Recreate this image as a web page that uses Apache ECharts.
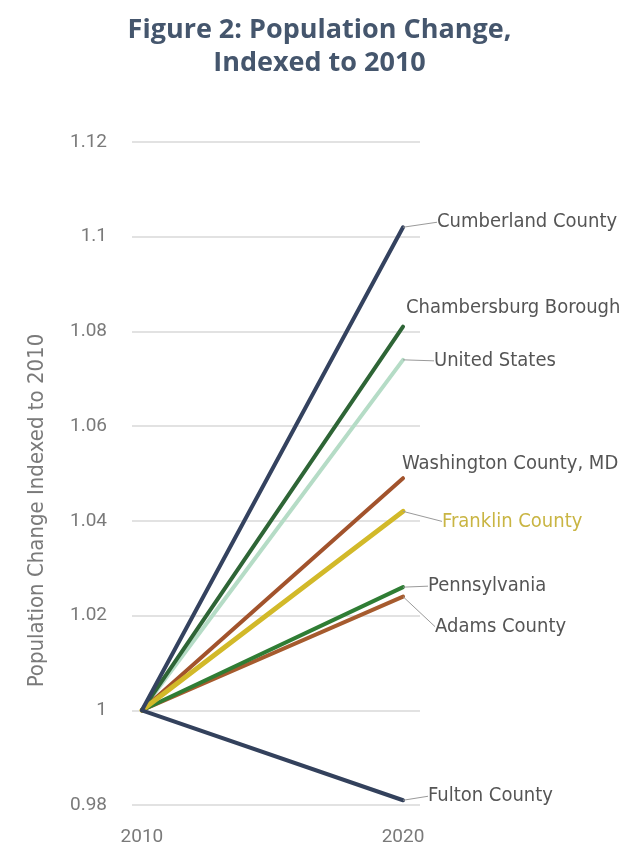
<!DOCTYPE html>
<html>
<head>
<meta charset="utf-8">
<script src="https://cdn.jsdelivr.net/npm/echarts@6/dist/echarts.min.js"></script>
<style>
  html, body { margin: 0; padding: 0; background: #ffffff; }
  #chart { width: 639px; height: 849px; }
</style>
</head>
<body>
<div id="chart"></div>
<script>
// Years compared
const years = [2010, 2020];
// Places, in drawing order (later ones sit on top)
const places = ['United States', 'Washington County, MD', 'Adams County', 'Pennsylvania',
  'Chambersburg Borough', 'Franklin County', 'Cumberland County', 'Fulton County'];
// 2010 population indexed to 1
const index2010 = [1, 1, 1, 1, 1, 1, 1, 1];
// 2020 population relative to 2010
const index2020 = [1.074, 1.049, 1.024, 1.026, 1.081, 1.042, 1.102, 0.981];
// Y-axis tick labels
const yTicks = ['0.98', '1', '1.02', '1.04', '1.06', '1.08', '1.1', '1.12'];

const lineColors = ['#b5dcc6', '#a2532c', '#a65b2e', '#2f7d34',
  '#2e6536', '#d2b929', '#34425f', '#33415c'];
const lineWidths = [4, 4, 4, 4, 4, 5, 4, 4];
// label offsets from the 2020 end of each line, and whether a leader is drawn
const labelShift = [[26, 1, true], [-6, -14, false], [27, 30, true], [20, -1, true],
  [-2, -19, false], [34, 10, true], [29, -5, true], [20, -4, true]];
const labelColors = ['#555', '#555', '#555', '#555', '#555', '#c9b543', '#555', '#555'];

const labelFont = '"Liberation Sans Narrow", "DejaVu Sans Condensed", sans-serif';

const series = places.map((name, i) => ({
  name: name,
  type: 'line',
  z: 2 + i,
  symbol: 'circle',
  symbolSize: 0,
  showSymbol: true,
  lineStyle: { color: lineColors[i], width: lineWidths[i], cap: 'round' },
  itemStyle: { color: lineColors[i] },
  data: [
    [years[0], index2010[i]],
    {
      value: [years[1], index2020[i]],
      label: {
        show: true,
        position: 'right',
        distance: 5,
        formatter: name,
        color: labelColors[i],
        fontFamily: labelFont,
        fontSize: 20
      }
    }
  ],
  labelLine: {
    show: labelShift[i][2],
    lineStyle: { color: '#9a9a9a', width: 1 },
    smooth: 0.3
  },
  labelLayout: { dx: labelShift[i][0], dy: labelShift[i][1] },
  emphasis: { disabled: true },
  animation: false
}));

const chart = echarts.init(document.getElementById('chart'), null, { renderer: 'canvas' });
chart.setOption({
  backgroundColor: '#ffffff',
  animation: false,
  title: {
    text: 'Figure 2: Population Change,\nIndexed to 2010',
    left: 'center',
    top: 9,
    textStyle: {
      fontFamily: '"Open Sans", Lato, sans-serif',
      fontWeight: 'bold',
      fontSize: 27,
      lineHeight: 33,
      color: '#45566d'
    }
  },
  grid: { left: 132, right: 219, top: 142, bottom: 44, containLabel: false },
  xAxis: {
    type: 'value',
    min: 2009.62,
    max: 2020.65,
    splitLine: { show: false },
    axisLine: { show: false },
    axisTick: { show: false },
    axisLabel: {
      customValues: years,
      color: '#7a7a7a',
      fontFamily: 'Roboto, sans-serif',
      fontSize: 19,
      margin: 23,
      formatter: v => String(v)
    }
  },
  yAxis: {
    type: 'value',
    min: 0.98,
    max: 1.12,
    interval: 0.02,
    name: 'Population Change Indexed to 2010',
    nameLocation: 'middle',
    nameGap: 84,
    nameTextStyle: {
      color: '#7a7a7a',
      fontFamily: labelFont,
      fontSize: 22,
      padding: [0, 74, 0, 0]
    },
    axisLine: { show: false },
    axisTick: { show: false },
    splitLine: { lineStyle: { color: '#e2e2e2', width: 2 } },
    axisLabel: {
      color: '#7a7a7a',
      fontFamily: 'Roboto, sans-serif',
      fontSize: 19,
      margin: 25,
      formatter: (v) => yTicks[Math.round((v - 0.98) / 0.02)]
    }
  },
  series: series
});
</script>
</body>
</html>
